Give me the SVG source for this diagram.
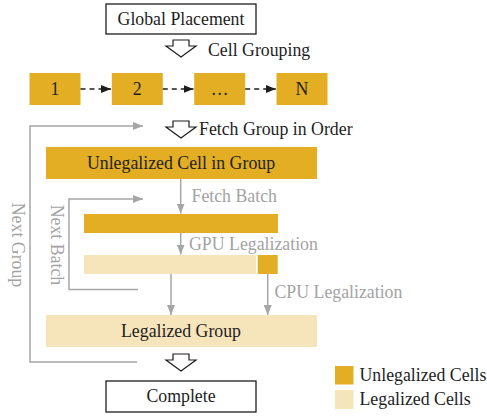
<svg xmlns="http://www.w3.org/2000/svg" width="487" height="417" viewBox="0 0 487 417">
  <defs>
    <marker id="headDark" markerWidth="10" markerHeight="8" refX="10" refY="4" orient="auto" markerUnits="userSpaceOnUse">
      <path d="M0,0 L10,4 L0,8 Z" fill="#1e1e1e"/>
    </marker>
    <marker id="headGrey" markerWidth="10" markerHeight="8" refX="10" refY="4" orient="auto" markerUnits="userSpaceOnUse">
      <path d="M0,0 L10,4 L0,8 Z" fill="#a6a6a6"/>
    </marker>
    <!-- hollow block arrow, centred on x=0, top at y=0 -->
    <path id="blockArrow" d="M-8,0 H8 V6 H15 L0,17 L-15,6 H-8 Z"/>
  </defs>
  <style>
    text { font-family: "Liberation Serif", "Times New Roman", serif; font-size: 17.8px; fill: #1e1e1e; }
    .grey { fill: #a3a3a3; }
    .mid { text-anchor: middle; }
    .box { fill: #ffffff; stroke: #1e1e1e; stroke-width: 1.3; }
    .unleg { fill: #e3ae24; }
    .leg { fill: #f6e4ba; }
    .block { fill: #ffffff; stroke: #1e1e1e; stroke-width: 1.2; stroke-linejoin: miter; }
    .dash { fill: none; stroke: #1e1e1e; stroke-width: 1.3; stroke-dasharray: 5 4; }
    .flow { fill: none; stroke: #a6a6a6; stroke-width: 1.5; }
  </style>

  <g id="global-placement">
    <rect class="box" x="106" y="4" width="150" height="30"/>
    <text class="mid" x="181" y="25">Global Placement</text>
  </g>

  <g id="cell-grouping">
    <use href="#blockArrow" class="block" x="181" y="40"/>
    <text x="208" y="56">Cell Grouping</text>
  </g>

  <g id="group-1">
    <rect class="unleg" x="29.5" y="73" width="51" height="32"/>
    <text class="mid" x="55" y="95">1</text>
  </g>
  <g id="group-2">
    <rect class="unleg" x="111.8" y="73" width="51" height="32"/>
    <text class="mid" x="137.3" y="95">2</text>
  </g>
  <g id="group-dots">
    <rect class="unleg" x="194.2" y="73" width="51" height="32"/>
    <text class="mid" x="219.7" y="95">…</text>
  </g>
  <g id="group-n">
    <rect class="unleg" x="276.5" y="73" width="51" height="32"/>
    <text class="mid" x="302" y="95">N</text>
  </g>

  <g id="fetch-group">
    <use href="#blockArrow" class="block" x="181" y="121"/>
    <text x="199" y="135">Fetch Group in Order</text>
  </g>

  <g id="unlegalized-group">
    <rect class="unleg" x="46" y="147" width="271" height="32"/>
    <text class="mid" x="181" y="168.5">Unlegalized Cell in Group</text>
  </g>

  <g id="batch">
    <rect class="unleg" x="84" y="214" width="194" height="19"/>
  </g>

  <g id="batch-result">
    <rect class="leg" x="84" y="255" width="172" height="19"/>
    <rect class="unleg" x="257.7" y="255" width="20" height="19"/>
  </g>

  <g id="legalized-group">
    <rect class="leg" x="46" y="315" width="271" height="32"/>
    <text class="mid" x="181" y="337">Legalized Group</text>
  </g>

  <g id="complete">
    <use href="#blockArrow" class="block" x="181" y="354"/>
    <rect class="box" x="106" y="381" width="150" height="31"/>
    <text class="mid" x="181" y="402">Complete</text>
  </g>

  <g id="legend">
    <rect class="unleg" x="335" y="366" width="18.5" height="18.5"/>
    <text x="359.5" y="381">Unlegalized Cells</text>
    <rect class="leg" x="335" y="390" width="18.5" height="19"/>
    <text x="359.5" y="405">Legalized Cells</text>
  </g>

  <g id="connectors">
    <path class="dash" d="M80.5,89 H111" marker-end="url(#headDark)"/>
    <path class="dash" d="M162.8,89 H193.5" marker-end="url(#headDark)"/>
    <path class="dash" d="M245.2,89 H275.8" marker-end="url(#headDark)"/>

    <path class="flow" d="M137,362 H30 V126 H143" marker-end="url(#headGrey)"/>
    <path class="flow" d="M138,289.5 H69 V199 H143" marker-end="url(#headGrey)"/>

    <path class="flow" d="M180.7,179 V213.5" marker-end="url(#headGrey)"/>
    <path class="flow" d="M180.7,233 V254.5" marker-end="url(#headGrey)"/>
    <path class="flow" d="M171,274 V315" marker-end="url(#headGrey)"/>
    <path class="flow" d="M267.7,274 V315" marker-end="url(#headGrey)"/>

    <text class="grey" x="191.5" y="202">Fetch Batch</text>
    <text class="grey" x="189" y="250">GPU Legalization</text>
    <text class="grey" x="274.5" y="298">CPU Legalization</text>
    <text class="grey mid" transform="translate(11.5,245) rotate(90)">Next Group</text>
    <text class="grey mid" transform="translate(50.5,245) rotate(90)">Next Batch</text>
  </g>
</svg>
